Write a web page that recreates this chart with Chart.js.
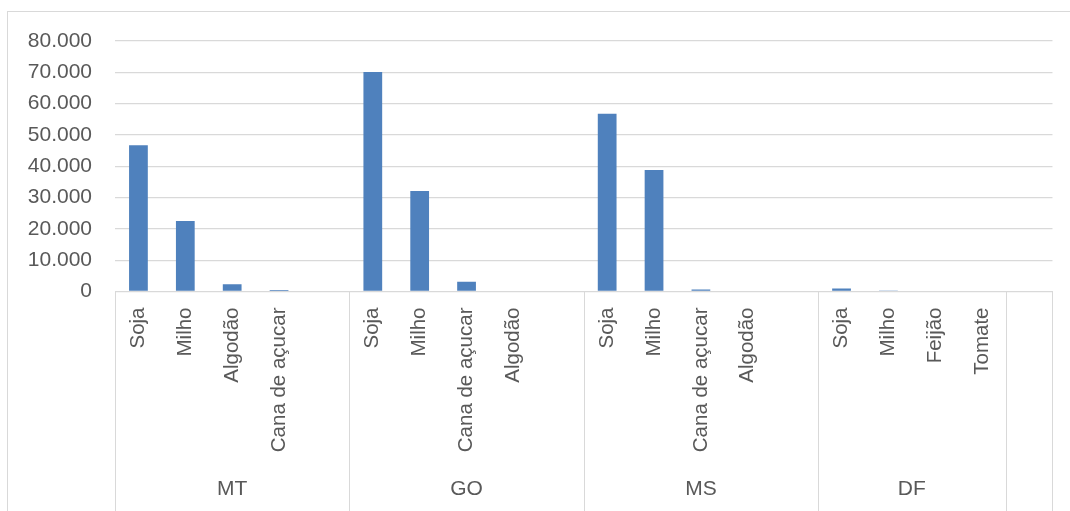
<!DOCTYPE html>
<html>
<head>
<meta charset="utf-8">
<script src="https://cdn.jsdelivr.net/npm/chart.js@4.4.1/dist/chart.umd.min.js"></script>
<style>
  html, body { margin: 0; padding: 0; background: #fff; }
  #wrap { width: 1070px; height: 511px; position: relative; }
</style>
</head>
<body>
<div id="wrap"><canvas id="chart"></canvas></div>
<script>
// data
const states = ['MT', 'GO', 'MS', 'DF', ''];
const groupSizes = [5, 5, 5, 4, 1];
const crops = [
  'Soja', 'Milho', 'Algodão', 'Cana de açucar', '',
  'Soja', 'Milho', 'Cana de açucar', 'Algodão', '',
  'Soja', 'Milho', 'Cana de açucar', 'Algodão', '',
  'Soja', 'Milho', 'Feijão', 'Tomate',
  ''
];
const values = [
  46700, 22500, 2300, 450, null,
  70100, 32100, 3100, 200, null,
  56800, 38800, 600, 0, null,
  950, 300, 0, 0,
  null
];
const yMax = 80000;
const yStep = 10000;

const gridColor = '#d9d9d9';
const textColor = '#595959';
const fontFamily = '"Liberation Sans", Arial, sans-serif';

function fmt(v) {
  return String(v).replace(/\B(?=(\d{3})+(?!\d))/g, '.');
}

// draws frame, group labels and the separators under the category axis
const groupAxis = {
  id: 'groupAxis',
  beforeDraw(chart) {
    const ctx = chart.ctx;
    ctx.save();
    ctx.strokeStyle = gridColor;
    ctx.lineWidth = 1;
    ctx.strokeRect(7.5, 11.5, 1200, 700);
    ctx.restore();
  },
  afterDraw(chart) {
    const x = chart.scales.x;
    const ctx = chart.ctx;
    const top = chart.chartArea.bottom;
    const bottom = chart.height;
    const half = (x.getPixelForValue(1) - x.getPixelForValue(0)) / 2;

    ctx.save();
    ctx.strokeStyle = gridColor;
    ctx.lineWidth = 1;
    ctx.fillStyle = textColor;
    ctx.font = '21px ' + fontFamily;
    ctx.textAlign = 'center';
    ctx.textBaseline = 'middle';

    const edges = [x.getPixelForValue(0) - half];
    let start = 0;
    groupSizes.forEach((n, g) => {
      const left = x.getPixelForValue(start) - half;
      const right = x.getPixelForValue(start + n - 1) + half;
      ctx.fillText(states[g], (left + right) / 2, 489);
      edges.push(right);
      start += n;
    });
    edges.forEach(px => {
      const p = Math.round(px) + 0.5;
      ctx.beginPath();
      ctx.moveTo(p, top);
      ctx.lineTo(p, bottom);
      ctx.stroke();
    });
    ctx.restore();
  }
};

new Chart(document.getElementById('chart'), {
  type: 'bar',
  data: {
    labels: crops,
    datasets: [{
      data: values,
      backgroundColor: '#4f81bd',
      borderWidth: 0,
      barPercentage: 0.4,
      categoryPercentage: 1
    }]
  },
  options: {
    responsive: true,
    maintainAspectRatio: false,
    animation: false,
    layout: { padding: { top: 41, right: 15, left: 0, bottom: 0 } },
    plugins: {
      legend: { display: false },
      tooltip: { enabled: false }
    },
    scales: {
      x: {
        grid: { display: false, drawTicks: false },
        border: { display: true, color: gridColor, width: 1 },
        ticks: {
          autoSkip: false,
          maxRotation: 90,
          minRotation: 90,
          padding: 16,
          color: textColor,
          font: { size: 20.5, family: fontFamily }
        },
        afterFit(scale) { scale.height = 219.5; }
      },
      y: {
        min: 0,
        max: yMax,
        grid: { color: gridColor, lineWidth: 1.3, drawTicks: false },
        border: { display: false },
        ticks: {
          stepSize: yStep,
          padding: 23,
          color: textColor,
          font: { size: 21, family: fontFamily },
          callback: v => fmt(v)
        },
        afterFit(scale) { scale.width = 115; }
      }
    }
  },
  plugins: [groupAxis]
});
</script>
</body>
</html>
